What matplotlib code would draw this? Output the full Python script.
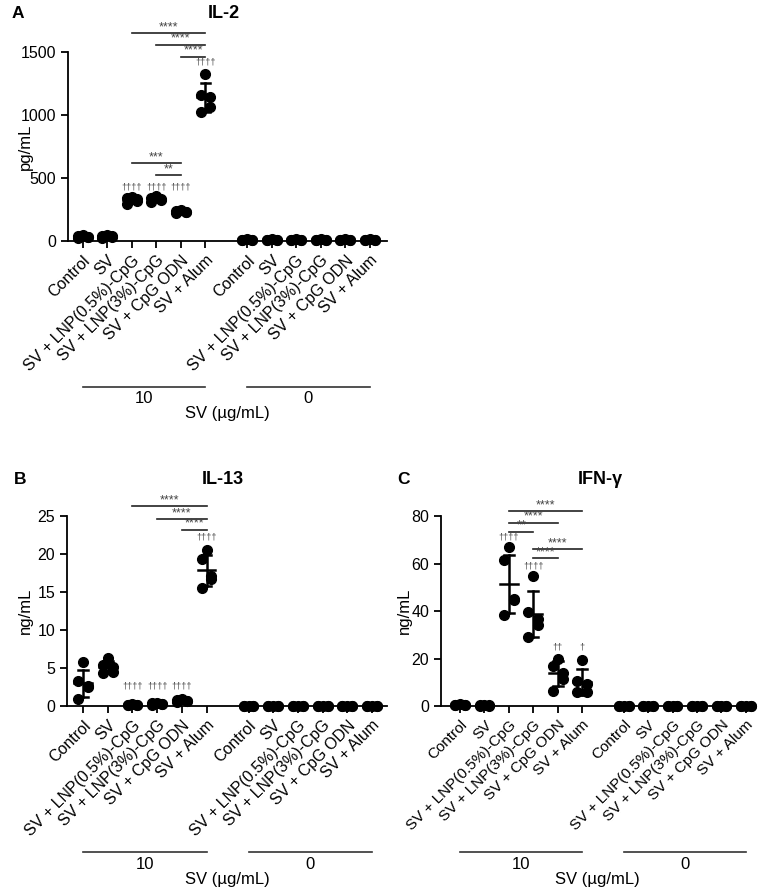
import numpy as np
import matplotlib
matplotlib.use('Agg')
import matplotlib.pyplot as plt
import matplotlib.transforms as mtransforms

plt.rcParams['font.family'] = ['Liberation Sans', 'DejaVu Sans']

# Gruppen / Beschriftungen
groups = ['Control', 'SV', 'SV + LNP(0.5%)-CpG', 'SV + LNP(3%)-CpG',
          'SV + CpG ODN', 'SV + Alum']
dose_labels = ['10', '0']

# IL-2 (pg/mL), SV 10 und SV 0
il2_sv10 = [[45, 38, 32, 28, 22],
            [48, 42, 38, 30, 26],
            [352, 340, 332, 318, 292],
            [355, 345, 335, 325, 310],
            [245, 238, 232, 228, 222],
            [1325, 1155, 1140, 1065, 1025]]
il2_sv0 = [[12, 10, 8, 7, 5]] * 6

# IL-13 (ng/mL)
il13_sv10 = [[5.8, 3.3, 2.6, 2.5, 0.9],
             [6.3, 5.4, 5.2, 4.5, 4.3],
             [0.3, 0.2, 0.2, 0.15, 0.1],
             [0.45, 0.35, 0.3, 0.25, 0.2],
             [0.9, 0.8, 0.7, 0.6, 0.5],
             [20.5, 19.4, 17.1, 16.7, 15.5]]
il13_sv0 = [[0.05, 0.04, 0.03, 0.02, 0.01]] * 6

# IFN-gamma (ng/mL)
ifng_sv10 = [[0.8, 0.6, 0.5, 0.4, 0.3],
             [0.5, 0.4, 0.3, 0.2, 0.1],
             [67.0, 61.5, 45.0, 44.5, 38.5],
             [54.7, 39.6, 36.5, 34.0, 29.2],
             [19.7, 17.0, 14.0, 11.5, 6.4],
             [19.2, 10.5, 9.2, 6.0, 5.8]]
ifng_sv0 = [[0.1, 0.08, 0.05, 0.03, 0.02]] * 6

# Signifikanz: (von, bis, y, text)
il2_brackets = [(2, 5, 1651, '****'), (3, 5, 1556, '****'), (4, 5, 1461, '****'),
                (2, 4, 619, '***'), (3, 4, 524, '**')]
il2_daggers = [(2, 428, '††††'), (3, 428, '††††'), (4, 428, '††††'), (5, 1420, '††††')]

il13_brackets = [(2, 5, 26.3, '****'), (3, 5, 24.6, '****'), (4, 5, 23.2, '****')]
il13_daggers = [(2, 2.6, '††††'), (3, 2.6, '††††'), (4, 2.6, '††††'), (5, 22.2, '††††')]

ifng_brackets = [(2, 5, 82.0, '****'), (2, 4, 77.2, '****'), (2, 3, 73.3, '**'),
                 (3, 5, 66.0, '****'), (3, 4, 62.2, '****')]
ifng_daggers = [(2, 71.0, '††††'), (3, 59.0, '††††'), (4, 25.0, '††'), (5, 25.0, '†')]

pos1 = np.arange(6)
pos2 = np.arange(6) + 6.7
jitter = np.array([0, -0.2, 0.2, 0.2, -0.2])


def draw_group(ax, x, vals):
    vals = np.array(vals, dtype=float)
    ax.plot(x + jitter[:len(vals)], vals, 'o', color='black', ms=7,
            clip_on=False, zorder=3)
    m = vals.mean()
    sd = vals.std(ddof=1)
    ax.plot([x - 0.36, x + 0.36], [m, m], color='black', lw=1.8, zorder=4,
            clip_on=False)
    ax.plot([x, x], [m - sd, m + sd], color='black', lw=1.8, zorder=4,
            clip_on=False)
    for yy in (m - sd, m + sd):
        ax.plot([x - 0.2, x + 0.2], [yy, yy], color='black', lw=1.8, zorder=4,
                clip_on=False)


def draw_panel(ax, sv10, sv0, ylim, yticks, ylabel, brackets, daggers, xlim,
               lab_size, ylab_x):
    for i in range(6):
        draw_group(ax, pos1[i], sv10[i])
        draw_group(ax, pos2[i], sv0[i])
    ax.set_xlim(*xlim)
    ax.set_ylim(*ylim)
    ax.set_yticks(yticks)
    ax.spines['top'].set_visible(False)
    ax.spines['right'].set_visible(False)
    for s in ('left', 'bottom'):
        ax.spines[s].set_linewidth(1.3)
    ax.tick_params(direction='out', length=5, width=1.3, labelsize=11.5)
    ax.set_xticks(np.concatenate([pos1, pos2]))
    ax.set_xticklabels(groups + groups, rotation=45, ha='right',
                       rotation_mode='anchor', fontsize=lab_size)
    ax.set_ylabel(ylabel, fontsize=12)
    ax.yaxis.set_label_coords(ylab_x, 0.5)

    for a, b, y, txt in brackets:
        ax.plot([pos1[a], pos1[b]], [y, y], color='#222222', lw=1.2,
                clip_on=False)
        ax.text((pos1[a] + pos1[b]) / 2, y, txt, ha='center',
                va='bottom', fontsize=9, color='#444444')
    for a, y, txt in daggers:
        ax.text(pos1[a], y, txt, ha='center', va='center', fontsize=6.5,
                color='#444444')

    # Gruppenlinien unter den Achsen
    trans = mtransforms.blended_transform_factory(ax.transData, ax.transAxes)
    for p, lab in zip((pos1, pos2), dose_labels):
        ax.plot([p[0], p[-1]], [-0.77, -0.77], color='#333333', lw=1.2,
                transform=trans, clip_on=False)
        ax.text((p[0] + p[-1]) / 2, -0.835, lab, transform=trans, ha='center',
                va='center', fontsize=12)
    ax.text(0.5, -0.915, 'SV (µg/mL)', transform=ax.transAxes, ha='center',
            va='center', fontsize=12)


fig = plt.figure(figsize=(7.65, 8.9), dpi=100)
W, H = 765, 890
axA = fig.add_axes([0.0889, 0.7292, 0.417, 0.2124])
axB = fig.add_axes([0.0876, 0.2067, 0.418, 0.2135])
axC = fig.add_axes([0.5765, 0.2067, 0.408, 0.2135])

draw_panel(axA, il2_sv10, il2_sv0, (0, 1500), [0, 500, 1000, 1500], 'pg/mL',
           il2_brackets, il2_daggers, (-0.6, 12.4), 11.5, -0.11)
draw_panel(axB, il13_sv10, il13_sv0, (0, 25), [0, 5, 10, 15, 20, 25], 'ng/mL',
           il13_brackets, il13_daggers, (-0.65, 12.3), 11.5, -0.106)
draw_panel(axC, ifng_sv10, ifng_sv0, (0, 80), [0, 20, 40, 60, 80], 'ng/mL',
           ifng_brackets, ifng_daggers, (-0.78, 12.0), 11, -0.093)

# Titel und Panel-Buchstaben (Pixelpositionen)
for txt, x, y in [('IL-2', 224, 13), ('IL-13', 223, 479), ('IFN-γ', 600, 479)]:
    fig.text(x / W, 1 - y / H, txt, ha='center', va='center', fontsize=13,
             fontweight='bold')
for txt, x, y in [('A', 12, 13), ('B', 14, 479), ('C', 397, 479)]:
    fig.text(x / W, 1 - y / H, txt, ha='left', va='center', fontsize=12.5,
             fontweight='bold')

fig.savefig('out.png', dpi=100)
